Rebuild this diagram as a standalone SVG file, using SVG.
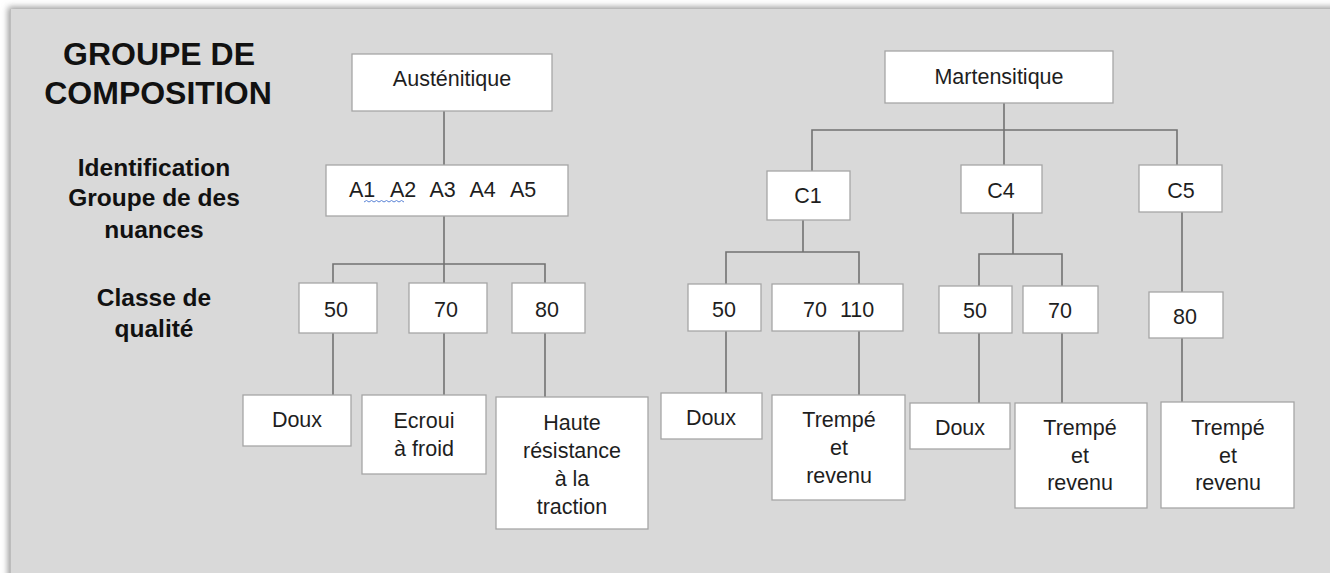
<svg xmlns="http://www.w3.org/2000/svg" width="1330" height="573" viewBox="0 0 1330 573">
<defs>
<filter id="sh" x="-5%" y="-5%" width="110%" height="110%">
<feGaussianBlur stdDeviation="3"/>
</filter>
<style>
.box{fill:#ffffff;stroke:#a6a6a6;stroke-width:1.3}
.ln{stroke:#727272;stroke-width:1.6;fill:none}
.t{font-family:"Liberation Sans",Arial,sans-serif;font-size:21.5px;fill:#1e1e1e;text-anchor:middle}
.s{text-anchor:start}
.h{font-family:"Liberation Sans",Arial,sans-serif;font-weight:bold;fill:#111;text-anchor:middle}
</style>
</defs>
<rect width="1330" height="573" fill="#ffffff"/>
<rect x="8" y="7" width="1330" height="580" fill="#9a9a9a" filter="url(#sh)"/>
<rect x="10" y="9" width="1320" height="564" fill="#d9d9d9"/>
<line x1="10.5" y1="9" x2="10.5" y2="573" stroke="#bdbdbd" stroke-width="1"/>

<g id="labels">
<text class="h" x="159" y="65" font-size="32">GROUPE DE</text>
<text class="h" x="158" y="104" font-size="32">COMPOSITION</text>
<text class="h" x="154" y="176" font-size="24.5">Identification</text>
<text class="h" x="154" y="206" font-size="24.5">Groupe de des</text>
<text class="h" x="154" y="238" font-size="24.5">nuances</text>
<text class="h" x="154" y="306" font-size="24.5">Classe de</text>
<text class="h" x="154" y="337" font-size="24.5">qualité</text>
</g>

<g id="connectors">
<path class="ln" d="M444 111V165"/>
<path class="ln" d="M444 216V264M333 283V264H545V283M444 264V283"/>
<path class="ln" d="M333 333V395M444 333V395M545 333V397"/>
<path class="ln" d="M1004 103V165M812 171V130H1177V165"/>
<path class="ln" d="M803 220V252M726 284V252H859V284"/>
<path class="ln" d="M726 331V393M859 331V395"/>
<path class="ln" d="M1013 213V254M979 286V254H1062V286"/>
<path class="ln" d="M979 333V403M1062 333V403"/>
<path class="ln" d="M1182 212V292M1182 338V402"/>
</g>

<g id="n-austenitique"><rect class="box" x="352" y="54" width="200" height="57"/><text class="t" x="452" y="86">Austénitique</text></g>
<g id="n-a1a5"><rect class="box" x="326" y="165" width="242" height="51"/><text class="t s" y="197"><tspan x="349">A1</tspan><tspan x="390">A2</tspan><tspan x="429.5">A3</tspan><tspan x="469.5">A4</tspan><tspan x="510">A5</tspan></text>
<path d="M364 202l2.5-1.5 2.5 1.5 2.5-1.5 2.5 1.5 2.5-1.5 2.5 1.5 2.5-1.5 2.5 1.5 2.5-1.5 2.5 1.5 2.5-1.5 2.5 1.5 2.5-1.5 2.5 1.5 2.5-1.5 2.5 1.5" fill="none" stroke="#5b84d6" stroke-width="1"/></g>
<g id="n-a50"><rect class="box" x="299" y="283" width="78" height="50"/><text class="t" x="336" y="317">50</text></g>
<g id="n-a70"><rect class="box" x="409" y="283" width="78" height="50"/><text class="t" x="446" y="317">70</text></g>
<g id="n-a80"><rect class="box" x="512" y="283" width="73" height="50"/><text class="t" x="547" y="317">80</text></g>
<g id="n-doux1"><rect class="box" x="243" y="395" width="108" height="51"/><text class="t" x="297" y="427">Doux</text></g>
<g id="n-ecroui"><rect class="box" x="362" y="395" width="124" height="79"/><text class="t" x="424" y="428">Ecroui</text><text class="t" x="424" y="456">à froid</text></g>
<g id="n-haute"><rect class="box" x="496" y="397" width="152" height="132"/><text class="t" x="572" y="430">Haute</text><text class="t" x="572" y="458">résistance</text><text class="t" x="572" y="486">à la</text><text class="t" x="572" y="514">traction</text></g>

<g id="n-martensitique"><rect class="box" x="885" y="51" width="228" height="52"/><text class="t" x="999" y="84">Martensitique</text></g>
<g id="n-c1"><rect class="box" x="767" y="171" width="83" height="49"/><text class="t" x="808" y="203">C1</text></g>
<g id="n-c4"><rect class="box" x="961" y="165" width="81" height="48"/><text class="t" x="1001" y="198">C4</text></g>
<g id="n-c5"><rect class="box" x="1139" y="165" width="83" height="47"/><text class="t" x="1181" y="198">C5</text></g>
<g id="n-c1-50"><rect class="box" x="688" y="284" width="73" height="47"/><text class="t" x="724" y="317">50</text></g>
<g id="n-c1-70"><rect class="box" x="772" y="284" width="131" height="47"/><text class="t s" y="317"><tspan x="803">70</tspan><tspan x="840">110</tspan></text></g>
<g id="n-c4-50"><rect class="box" x="939" y="286" width="73" height="47"/><text class="t" x="975" y="318">50</text></g>
<g id="n-c4-70"><rect class="box" x="1023" y="286" width="75" height="47"/><text class="t" x="1060" y="318">70</text></g>
<g id="n-c5-80"><rect class="box" x="1149" y="292" width="74" height="46"/><text class="t" x="1185" y="324">80</text></g>
<g id="n-c1-doux"><rect class="box" x="661" y="393" width="101" height="46"/><text class="t" x="711" y="425">Doux</text></g>
<g id="n-c1-trempe"><rect class="box" x="772" y="395" width="133" height="105"/><text class="t" x="839" y="427">Trempé</text><text class="t" x="839" y="455">et</text><text class="t" x="839" y="483">revenu</text></g>
<g id="n-c4-doux"><rect class="box" x="910" y="403" width="100" height="46"/><text class="t" x="960" y="435">Doux</text></g>
<g id="n-c4-trempe"><rect class="box" x="1015" y="403" width="132" height="105"/><text class="t" x="1080" y="435">Trempé</text><text class="t" x="1080" y="463">et</text><text class="t" x="1080" y="490">revenu</text></g>
<g id="n-c5-trempe"><rect class="box" x="1161" y="402" width="133" height="106"/><text class="t" x="1228" y="435">Trempé</text><text class="t" x="1228" y="463">et</text><text class="t" x="1228" y="490">revenu</text></g>
</svg>
